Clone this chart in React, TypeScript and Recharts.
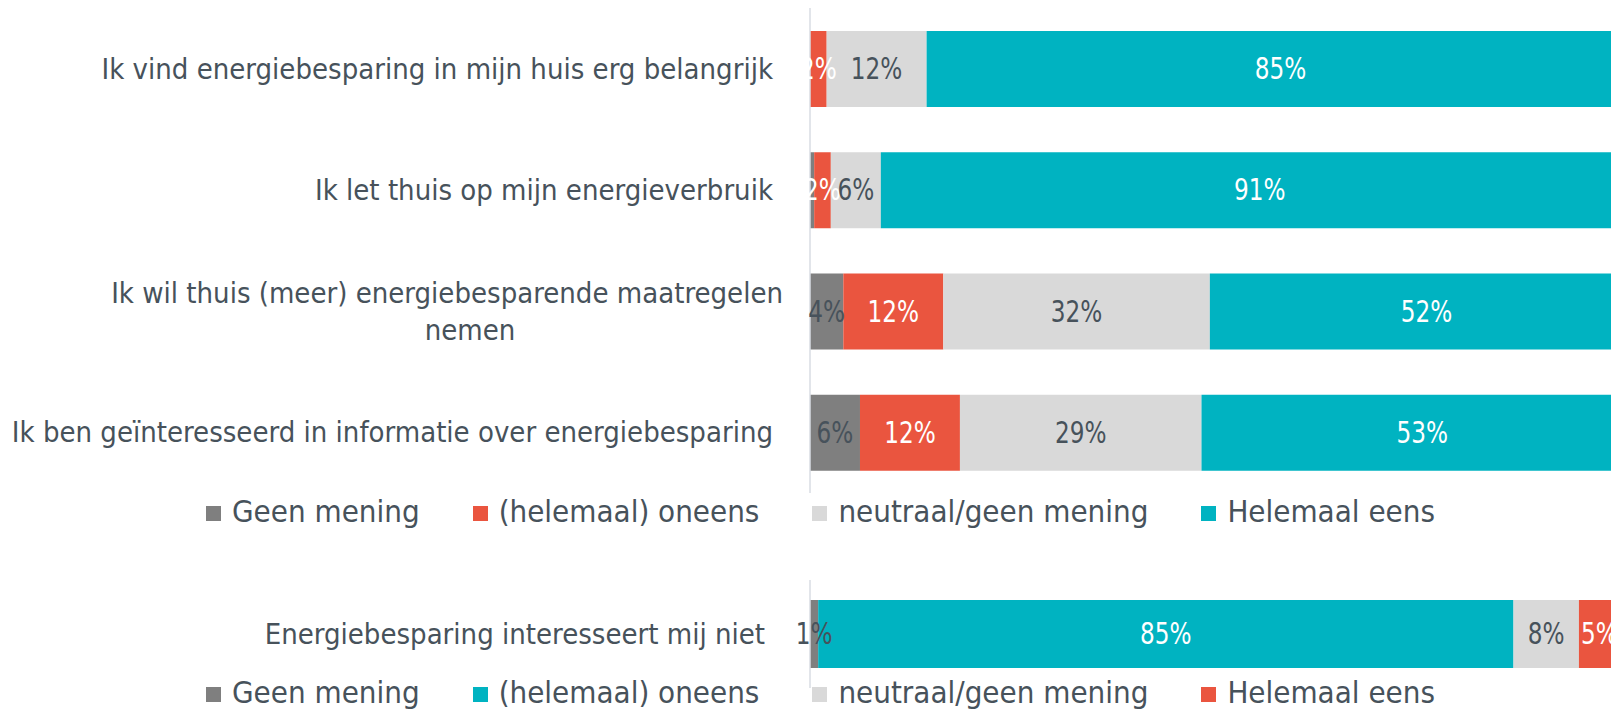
import { BarChart, Bar, XAxis, YAxis, LabelList, Legend } from "recharts";

// bovenste grafiek: stellingen
const CATEGORIES = [
  "Ik vind energiebesparing in mijn huis erg belangrijk",
  "Ik let thuis op mijn energieverbruik",
  "Ik wil thuis (meer) energiebesparende maatregelen\nnemen",
  "Ik ben geïnteresseerd in informatie over energiebesparing",
];
const GEEN_MENING = [0, 0.5, 4, 6];
const ONEENS = [2, 2, 12, 12];
const NEUTRAAL = [12, 6, 32, 29];
const EENS = [85, 91, 52, 53];

// onderste grafiek: omgekeerde stelling
const CATEGORIES_2 = ["Energiebesparing interesseert mij niet"];
const GEEN_MENING_2 = [1];
const ONEENS_2 = [85];
const NEUTRAAL_2 = [8];
const EENS_2 = [5];

const LEGEND_LABELS = ["Geen mening", "(helemaal) oneens", "neutraal/geen mening", "Helemaal eens"];

const GRAY = "#7f7f7f";
const RED = "#ea553f";
const LIGHT = "#d9d9d9";
const TEAL = "#00b3c1";
const TEXT = "#47525b";
const FONT = "'DejaVu Sans Condensed', 'DejaVu Sans', sans-serif";

const topData = CATEGORIES.map((name, i) => ({
  name, geen: GEEN_MENING[i], oneens: ONEENS[i], neutraal: NEUTRAAL[i], eens: EENS[i],
}));
const bottomData = CATEGORIES_2.map((name, i) => ({
  name, geen: GEEN_MENING_2[i], oneens: ONEENS_2[i], neutraal: NEUTRAAL_2[i], eens: EENS_2[i],
}));

function CategoryTick(props: any) {
  const { x, y, payload, dx } = props;
  const lines = String(payload.value).split("\n");
  if (lines.length === 1) {
    return (
      <text x={x + dx} y={y} textAnchor="end" dominantBaseline="central" fill={TEXT} fontSize={29}>
        {lines[0]}
      </text>
    );
  }
  // Excel zet de tweede regel ongeveer in het midden
  return (
    <g fill={TEXT} fontSize={29}>
      <text x={x + dx + 10} y={y - 18} textAnchor="end" dominantBaseline="central">{lines[0]}</text>
      <text x={x - 340} y={y + 19} textAnchor="middle" dominantBaseline="central">{lines[1]}</text>
    </g>
  );
}

// percentage in het midden van het segment, iets smaller getekend zoals in het origineel
function PctLabel(props: any) {
  const { x, y, width, height, value, color } = props;
  if (!(Number(value) >= 1)) return null;
  const cx = Number(x) + Number(width) / 2;
  const cy = Number(y) + Number(height) / 2;
  return (
    <text transform={`translate(${cx},${cy}) scale(0.86,1)`} textAnchor="middle" dominantBaseline="central"
      fill={color} fontSize={30}>
      {`${value}%`}
    </text>
  );
}

const makeLegend = (colors: string[]) => () => (
  <div style={{ display: "flex", alignItems: "center", paddingLeft: 206, fontSize: 31, color: TEXT, lineHeight: "36px", whiteSpace: "nowrap" }}>
    {LEGEND_LABELS.map((l, i) => (
      <div key={l} style={{ display: "flex", alignItems: "center", marginRight: 53 }}>
        <span style={{ display: "inline-block", width: 15, height: 15, background: colors[i], marginRight: 11, marginTop: 5 }} />
        {l}
      </div>
    ))}
  </div>
);

function Stack({ colors, labelColors, size }: { colors: string[]; labelColors: string[]; size: number }) {
  const keys = ["geen", "oneens", "neutraal", "eens"];
  return keys.map((k, i) => (
    <Bar key={k} dataKey={k} stackId="a" fill={colors[i]} barSize={size} isAnimationActive={false}>
      <LabelList dataKey={k} content={(p: any) => <PctLabel {...p} color={labelColors[i]} />} />
    </Bar>
  ));
}

export default function App() {
  const topColors = [GRAY, RED, LIGHT, TEAL];
  const topLabels = [TEXT, "#ffffff", TEXT, "#ffffff"];
  const botColors = [GRAY, TEAL, LIGHT, RED];
  const botLabels = [TEXT, "#ffffff", TEXT, "#ffffff"];
  return (
    <div style={{ position: "relative", width: 1611, height: 710, overflow: "hidden", fontFamily: FONT, background: "#fff" }}>
      <style>{`body{margin:0;overflow:hidden}`}</style>
      <div style={{ position: "absolute", left: 0, top: 0 }}>
        <BarChart width={1643} height={540} data={topData} layout="vertical" margin={{ top: 8, right: 0, bottom: 47, left: 0 }}>
          <XAxis type="number" domain={[0, 100]} hide />
          <YAxis type="category" dataKey="name" width={810} tickSize={0} tickMargin={0} tickLine={false}
            axisLine={{ stroke: "#d9dde3", strokeWidth: 1.5 }} tick={(p: any) => <CategoryTick {...p} dx={-37} />} />
          {Stack({ colors: topColors, labelColors: topLabels, size: 76 })}
          <Legend verticalAlign="middle" layout="horizontal" wrapperStyle={{ top: 493, left: 0, width: 1611 }} content={makeLegend(topColors)} />
        </BarChart>
      </div>
      <div style={{ position: "absolute", left: 0, top: 540 }}>
        <BarChart width={1628} height={170} data={bottomData} layout="vertical" margin={{ top: 40, right: 0, bottom: 22, left: 0 }}>
          <XAxis type="number" domain={[0, 100]} hide />
          <YAxis type="category" dataKey="name" width={810} tickSize={0} tickMargin={0} tickLine={false}
            axisLine={{ stroke: "#d9dde3", strokeWidth: 1.5 }} tick={(p: any) => <CategoryTick {...p} dx={-45} />} />
          {Stack({ colors: botColors, labelColors: botLabels, size: 68 })}
          <Legend verticalAlign="middle" layout="horizontal" wrapperStyle={{ top: 134, left: 0, width: 1611 }} content={makeLegend(botColors)} />
        </BarChart>
      </div>
    </div>
  );
}
